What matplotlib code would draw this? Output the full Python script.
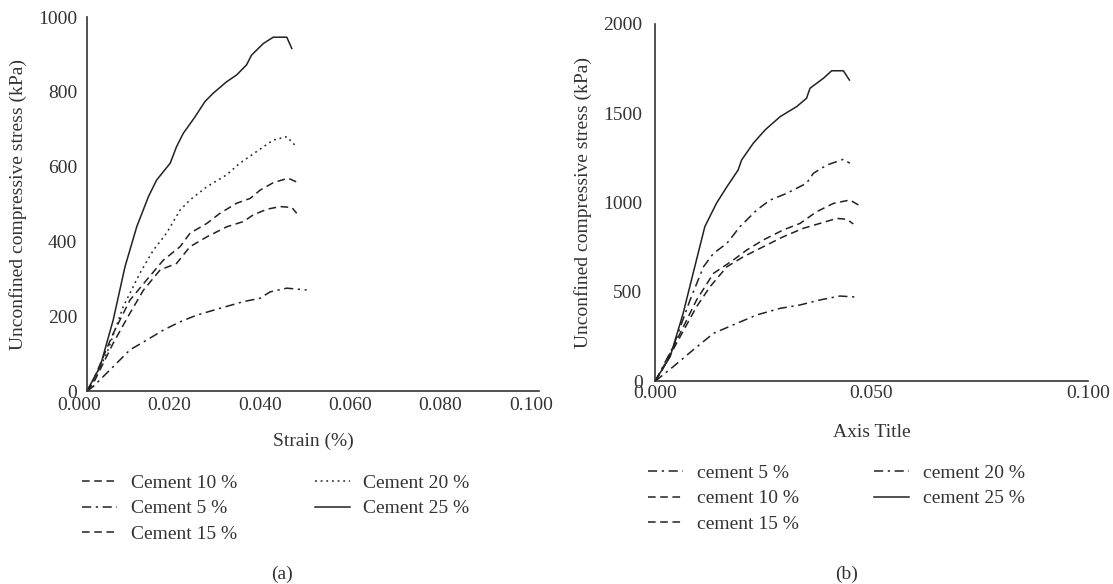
import matplotlib
matplotlib.use("Agg")
import matplotlib.pyplot as plt
from matplotlib.transforms import ScaledTranslation

# panel (a) - strain / stress (kPa)
a_x_5 = [0, 0.0013, 0.0058, 0.0095, 0.0132, 0.0169, 0.0206, 0.0243, 0.0294, 0.0346, 0.0383, 0.0405, 0.0442, 0.0486]
a_y_5 = [0, 11, 65, 110, 136, 163, 185, 203, 221, 239, 248, 265, 275, 270]
a_x_10 = [0, 0.0013, 0.0058, 0.0095, 0.0125, 0.0162, 0.0198, 0.0228, 0.0265, 0.0309, 0.0346, 0.0368, 0.0398, 0.0427, 0.0453, 0.0464]
a_y_10 = [0, 18, 128, 208, 270, 324, 341, 386, 412, 439, 453, 471, 486, 493, 491, 475]
a_x_15 = [0, 0.0014, 0.0058, 0.0095, 0.0132, 0.0169, 0.0206, 0.0228, 0.0265, 0.0294, 0.0331, 0.0361, 0.0383, 0.0412, 0.0445, 0.0471]
a_y_15 = [0, 29, 154, 243, 297, 350, 386, 422, 448, 475, 502, 515, 537, 557, 569, 555]
a_x_20 = [0, 0.0007, 0.0044, 0.0080, 0.0117, 0.0147, 0.0176, 0.0206, 0.0228, 0.0265, 0.0309, 0.0338, 0.0375, 0.0412, 0.0442, 0.0462]
a_y_20 = [0, 11, 101, 225, 315, 377, 422, 484, 511, 546, 578, 609, 640, 671, 680, 655]
a_x_25 = [0, 0.0003, 0.0029, 0.0058, 0.0084, 0.0110, 0.0136, 0.0154, 0.0184, 0.0198, 0.0213, 0.0239, 0.0261, 0.0279, 0.0309, 0.0331, 0.0353, 0.0364, 0.0390, 0.0412, 0.0442, 0.0453]
a_y_25 = [0, 7, 65, 190, 332, 439, 520, 564, 609, 653, 689, 733, 774, 796, 827, 845, 872, 898, 929, 946, 946, 916]

# panel (b)
b_x_5 = [0, 0.0004, 0.0042, 0.0088, 0.0135, 0.0189, 0.0235, 0.0289, 0.0335, 0.0381, 0.0427, 0.0466]
b_y_5 = [0, 6, 80, 174, 267, 323, 370, 407, 426, 454, 476, 470]
b_x_10 = [0, 0.0012, 0.0058, 0.0096, 0.0127, 0.0166, 0.0204, 0.0250, 0.0296, 0.0342, 0.0381, 0.0420, 0.0443, 0.0458]
b_y_10 = [0, 43, 248, 416, 528, 640, 696, 752, 808, 855, 883, 911, 906, 880]
b_x_15 = [0, 0.0012, 0.0058, 0.0096, 0.0135, 0.0181, 0.0212, 0.0250, 0.0296, 0.0335, 0.0373, 0.0412, 0.0450, 0.0470]
b_y_15 = [0, 43, 267, 454, 603, 678, 734, 790, 846, 883, 948, 995, 1014, 986]
b_x_20 = [0, 0.0004, 0.0042, 0.0081, 0.0112, 0.0135, 0.0166, 0.0196, 0.0235, 0.0266, 0.0304, 0.0350, 0.0366, 0.0397, 0.0435, 0.0450]
b_y_20 = [0, 15, 192, 454, 640, 715, 771, 864, 958, 1014, 1051, 1108, 1164, 1210, 1242, 1220]
b_x_25 = [0, 0.0004, 0.0035, 0.0065, 0.0088, 0.0115, 0.0142, 0.0166, 0.0192, 0.0200, 0.0227, 0.0254, 0.0289, 0.0327, 0.0350, 0.0358, 0.0389, 0.0408, 0.0435, 0.0449]
b_y_25 = [0, 15, 136, 379, 603, 864, 996, 1088, 1182, 1238, 1332, 1406, 1481, 1537, 1584, 1640, 1696, 1738, 1738, 1686]

a_xticks = [0.0, 0.02, 0.04, 0.06, 0.08, 0.10]
a_yticks = [0, 200, 400, 600, 800, 1000]
b_xticks = [0.0, 0.05, 0.10]
b_yticks = [0, 500, 1000, 1500, 2000]

plt.rcParams['font.family'] = ['Liberation Serif', 'DejaVu Serif']
plt.rcParams['font.size'] = 14
plt.rcParams['text.color'] = '#333333'
plt.rcParams['axes.labelcolor'] = '#333333'
plt.rcParams['xtick.color'] = '#333333'
plt.rcParams['ytick.color'] = '#333333'

dash = (0, (5, 3))
dashdot = (0, (6, 3, 1.5, 3))
dot = (0, (1.2, 2.5))
lc = '#222222'
lw = 1.1

W, H = 1113, 584
fig = plt.figure(figsize=(W / 100, H / 100), dpi=100)

def box(l, r, t, b):
    return [l / W, 1 - b / H, (r - l) / W, (b - t) / H]

def style(ax):
    ax.spines['top'].set_visible(False)
    ax.spines['right'].set_visible(False)
    for s in ('left', 'bottom'):
        ax.spines[s].set_color('#333333')
        ax.spines[s].set_linewidth(1.2)
    ax.tick_params(length=0)

# (a)
ax0 = fig.add_axes(box(87, 539, 17, 391))
ax0.plot(a_x_10, a_y_10, color=lc, lw=lw, ls=dash, label='Cement 10 %')
ax0.plot(a_x_5, a_y_5, color=lc, lw=lw, ls=dashdot, label='Cement 5 %')
ax0.plot(a_x_15, a_y_15, color=lc, lw=lw, ls=dash, label='Cement 15 %')
ax0.plot(a_x_20, a_y_20, color=lc, lw=lw, ls=dot, label='Cement 20 %')
ax0.plot(a_x_25, a_y_25, color=lc, lw=lw, ls='-', label='Cement 25 %')
ax0.set_xlim(0, 0.1)
ax0.set_ylim(0, 1000)
ax0.set_xticks(a_xticks)
ax0.set_xticklabels(['%.3f' % v for v in a_xticks])
ax0.set_yticks(a_yticks)
ax0.tick_params(axis='y', pad=7)
ax0.tick_params(axis='x', pad=4)
style(ax0)
for lab in ax0.get_xticklabels():
    lab.set_transform(lab.get_transform() + ScaledTranslation(-0.08, 0, fig.dpi_scale_trans))
ax0.set_ylabel('Unconfined compressive stress (kPa)', labelpad=8)
ax0.set_xlabel('Strain (%)', labelpad=14)
h, l = ax0.get_legend_handles_labels()
fig.legend(h, l, loc='upper left', bbox_to_anchor=(82 / W, 1 - 474 / H), ncol=2,
           frameon=False, handlelength=1.8, handletextpad=0.7, columnspacing=4.0,
           labelspacing=0.42, borderpad=0, borderaxespad=0)
fig.text(282 / W, 1 - 574 / H, '(a)', ha='center', va='center')

# (b)
ax1 = fig.add_axes(box(655, 1088, 24, 381))
ax1.plot(b_x_5, b_y_5, color=lc, lw=lw, ls=dashdot, label='cement 5 %')
ax1.plot(b_x_10, b_y_10, color=lc, lw=lw, ls=dash, label='cement 10 %')
ax1.plot(b_x_15, b_y_15, color=lc, lw=lw, ls=dash, label='cement 15 %')
ax1.plot(b_x_20, b_y_20, color=lc, lw=lw, ls=dashdot, label='cement 20 %')
ax1.plot(b_x_25, b_y_25, color=lc, lw=lw, ls='-', label='cement 25 %')
ax1.set_xlim(0, 0.1)
ax1.set_ylim(0, 2000)
ax1.set_xticks(b_xticks)
ax1.set_xticklabels(['%.3f' % v for v in b_xticks])
ax1.set_yticks(b_yticks)
ax1.tick_params(axis='y', pad=9)
ax1.tick_params(axis='x', pad=3)
style(ax1)
ax1.set_ylabel('Unconfined compressive stress (kPa)', labelpad=8)
ax1.set_xlabel('Axis Title', labelpad=16)
h, l = ax1.get_legend_handles_labels()
fig.legend(h, l, loc='upper left', bbox_to_anchor=(648 / W, 1 - 464 / H), ncol=2,
           frameon=False, handlelength=1.8, handletextpad=0.7, columnspacing=3.9,
           labelspacing=0.42, borderpad=0, borderaxespad=0)
fig.text(847 / W, 1 - 574 / H, '(b)', ha='center', va='center')

fig.savefig('out.png', dpi=100)
